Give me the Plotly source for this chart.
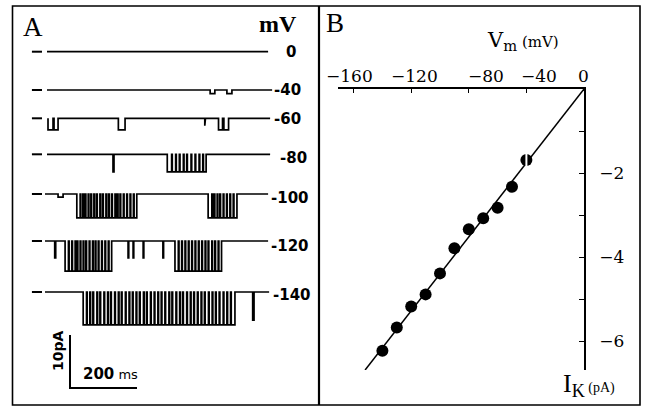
import plotly.graph_objects as go

W, H = 647, 408

# ---------------- Panel A : single-channel records ----------------
trace_labels = ["0", "-40", "-60", "-80", "-100", "-120", "-140"]
trace_start_ms = [0, 0, 3, 0, -6, -6, -6]
trace_end_ms = [660, 672, 666, 666, 660, 660, 663]
open_amp_pA = [0.0, 0.7, 2.2, 3.3, 4.5, 5.7, 6.2]

# isolated openings: (start ms, end ms, amplitude pA)
isolated = [
    [],
    [(487, 501, 0.7), (537, 552, 0.7)],
    [(3, 18, 2.2), (21, 33, 2.2), (213, 233, 2.2), (471, 473, 1.4), (512, 524, 2.2), (528, 542, 2.2)],
    [(197, 200, 3.3)],
    [(33, 48, 0.6)],
    [(23, 26, 3.2), (242, 244, 3.2), (257, 259, 3.2), (287, 289, 3.2), (346, 348, 3.2)],
    [(614, 618, 5.3)],
]
# bursts: (start ms, end ms)
bursts = [
    [], [], [],
    [(359, 475)],
    [(89, 268), (481, 567)],
    [(54, 193), (382, 521)],
    [(108, 561)],
]
# brief closures inside bursts (ms)
closures = [
    [], [], [],
    [372, 384, 395, 407, 417, 430, 442, 454, 465],
    [99, 107, 114, 123, 131, 140, 148, 158, 166, 176, 184, 193, 203, 210, 218, 228, 238, 248, 258,
     492, 499, 508, 516, 526, 536, 546, 556],
    [64, 74, 84, 90, 99, 108, 116, 126, 136, 144, 153, 163, 173, 183,
     392, 402, 412, 422, 432, 442, 452, 462, 472, 481, 492, 501, 511],
    [118, 128, 137, 149, 158, 170, 181, 190, 202, 213, 222, 234, 245, 255, 266, 276, 288, 297, 309,
     320, 331, 341, 352, 364, 373, 385, 396, 405, 417, 428, 438, 449, 460, 470, 482, 493, 503, 514,
     526, 537, 548],
]
closure_ms = 2
scalebar_ms = 200
scalebar_pA = 10

# ---------------- Panel B : I-V relation ----------------
vm_mV = [-40, -50, -60, -70, -80, -90, -100, -110, -120, -130, -140]
ik_pA = [-1.69, -2.33, -2.83, -3.08, -3.34, -3.79, -4.39, -4.89, -5.18, -5.68, -6.23]
fit_vm = [0, -152]
fit_ik = [0, -6.69]
x_ticks = [-160, -120, -80, -40, 0]
x_ticktext = ["\u2212160", "\u2212120", "\u221280", "\u221240", "0"]
y_ticks = [-6, -4, -2]
y_ticktext = ["\u22126", "\u22124", "\u22122"]
y_minor = [-5, -3, -1]

# ---------------- layout helpers ----------------
PX_PER_MS = 0.335
PX_PER_PA = 5.3
A_ORIGIN_X = 47
trace_row_px = [51.7, 90, 118.3, 154.3, 194, 241, 292]
label_right_px = [298, 303, 303, 309, 311, 311, 313]
label_row_px = [52, 90, 119, 158, 198, 246, 295]


def px(x, y):
    return x / W, 1 - y / H


fig = go.Figure()

# traces of panel A
dash_x, dash_y = [], []
for i in range(len(trace_labels)):
    opens = list(isolated[i])
    a = open_amp_pA[i]
    for (bs, be) in bursts[i]:
        s = bs
        for c in [c for c in closures[i] if bs < c < be]:
            opens.append((s, c, a))
            s = c + closure_ms
        opens.append((s, be, a))
    opens.sort()
    xs, ys = [trace_start_ms[i]], [0.0]
    for s, e, amp in opens:
        xs += [s, s, e, e]
        ys += [0, -amp, -amp, 0]
    xs.append(trace_end_ms[i])
    ys.append(0.0)
    off = -trace_row_px[i] / PX_PER_PA
    fig.add_trace(go.Scatter(x=xs, y=[off + v for v in ys], mode="lines",
                             line=dict(color="black", width=1.7), xaxis="x", yaxis="y",
                             showlegend=False, hoverinfo="skip"))
    dash_x += [-45, -15, None]
    dash_y += [off, off, None]

fig.add_trace(go.Scatter(x=dash_x, y=dash_y, mode="lines", line=dict(color="black", width=2),
                         xaxis="x", yaxis="y", showlegend=False, hoverinfo="skip"))

# scale bar
sb_t0 = (70 - A_ORIGIN_X) / PX_PER_MS
sb_y0 = -388 / PX_PER_PA
fig.add_trace(go.Scatter(x=[sb_t0, sb_t0, sb_t0 + scalebar_ms],
                         y=[sb_y0 + scalebar_pA, sb_y0, sb_y0], mode="lines",
                         line=dict(color="black", width=2), xaxis="x", yaxis="y",
                         showlegend=False, hoverinfo="skip"))

# panel B
fig.add_trace(go.Scatter(x=fit_vm, y=fit_ik, mode="lines", line=dict(color="black", width=1.5),
                         xaxis="x2", yaxis="y2", showlegend=False, hoverinfo="skip"))
fig.add_trace(go.Scatter(x=vm_mV[1:], y=ik_pA[1:], mode="markers",
                         marker=dict(color="black", size=12, symbol="circle"),
                         xaxis="x2", yaxis="y2", showlegend=False, hoverinfo="skip"))
fig.add_trace(go.Scatter(x=vm_mV[:1], y=ik_pA[:1], mode="markers",
                         marker=dict(color="black", size=12, symbol="circle"),
                         xaxis="x2", yaxis="y2", showlegend=False, hoverinfo="skip"))
fig.add_trace(go.Scatter(x=vm_mV[:1], y=ik_pA[:1], mode="markers",
                         marker=dict(color="white", size=12, symbol="line-ns",
                                     line=dict(color="white", width=2)),
                         xaxis="x2", yaxis="y2", showlegend=False, hoverinfo="skip"))

annotations = []
serif = "DejaVu Serif"
sans = "DejaVu Sans"

def ann(text, x, y, xanchor="left", yanchor="middle", font=None, **kw):
    px_, py_ = px(x, y)
    annotations.append(dict(text=text, x=px_, y=py_, xref="paper", yref="paper",
                            xanchor=xanchor, yanchor=yanchor, showarrow=False,
                            font=font, **kw))

for i, lab in enumerate(trace_labels):
    ann(lab, label_right_px[i], label_row_px[i], xanchor="right",
        font=dict(family=sans, size=15, color="black", weight="bold"))

ann("A", 21, 27, font=dict(family="Liberation Serif", size=27, color="black"))
ann("<b>mV</b>", 257, 24, font=dict(family="Liberation Serif", size=24, color="black"))
ann("B", 324, 23, font=dict(family="Liberation Serif", size=27, color="black"))
ann("V<sub>m</sub><span style='font-size:15px'> (mV)</span>", 485, 41,
    font=dict(family=serif, size=21, color="black"))
ann("I<sub>K</sub><span style='font-size:14px'> (pA)</span>", 561, 385,
    font=dict(family="Liberation Serif", size=26, color="black"))
ann("<b>10pA</b>", 58, 351, xanchor="center", textangle=-90,
    font=dict(family=sans, size=14, color="black"))
ann("<b>200</b><span style='font-size:13px'> ms</span>", 81, 374,
    font=dict(family=sans, size=15, color="black"))

x_shift = [-4, 3, 17, 13, -1]
for v, t, sh in zip(x_ticks, x_ticktext, x_shift):
    annotations.append(dict(text=t, x=v, xref="x2", y=px(0, 76)[1], yref="paper",
                            xanchor="center", yanchor="middle", xshift=sh, showarrow=False,
                            font=dict(family=serif, size=17, color="black")))

shapes = [
    dict(type="rect", xref="paper", yref="paper", x0=12.5 / W, x1=640 / W,
         y0=1 - 405 / H, y1=1 - 6 / H, line=dict(color="black", width=1.6)),
    dict(type="line", xref="paper", yref="paper", x0=319 / W, x1=319 / W,
         y0=1 - 405 / H, y1=1 - 6 / H, line=dict(color="black", width=2.2)),
]

fig.update_layout(
    width=W, height=H, margin=dict(l=0, r=0, t=0, b=0),
    paper_bgcolor="white", plot_bgcolor="rgba(0,0,0,0)",
    showlegend=False,
    xaxis=dict(domain=[0, 320 / W], range=[-A_ORIGIN_X / PX_PER_MS, (320 - A_ORIGIN_X) / PX_PER_MS],
               visible=False, fixedrange=True),
    yaxis=dict(domain=[0, 1], range=[-H / PX_PER_PA, 0], visible=False, fixedrange=True),
    xaxis2=dict(domain=[338 / W, 584 / W], range=[(338 - 584) / 1.44, 0], anchor="y2", side="top",
                showline=True, linecolor="black", linewidth=1.5, ticks="inside", ticklen=4,
                tickcolor="black", tickvals=x_ticks, showticklabels=False, showgrid=False,
                zeroline=False),
    yaxis2=dict(domain=[1 - 370 / H, 1 - 89 / H], range=[-(370 - 89) / 42, 0], anchor="x2",
                side="right", showline=True, linecolor="black", linewidth=1.5, ticks="inside",
                ticklen=5, tickcolor="black", tickvals=y_ticks, ticktext=y_ticktext,
                tickfont=dict(family=serif, size=17, color="black"), ticklabelstandoff=10,
                minor=dict(tickvals=y_minor, ticks="inside", ticklen=5, tickcolor="black"),
                showgrid=False, zeroline=False),
    annotations=annotations,
    shapes=shapes,
)

fig.write_html("out.html")
